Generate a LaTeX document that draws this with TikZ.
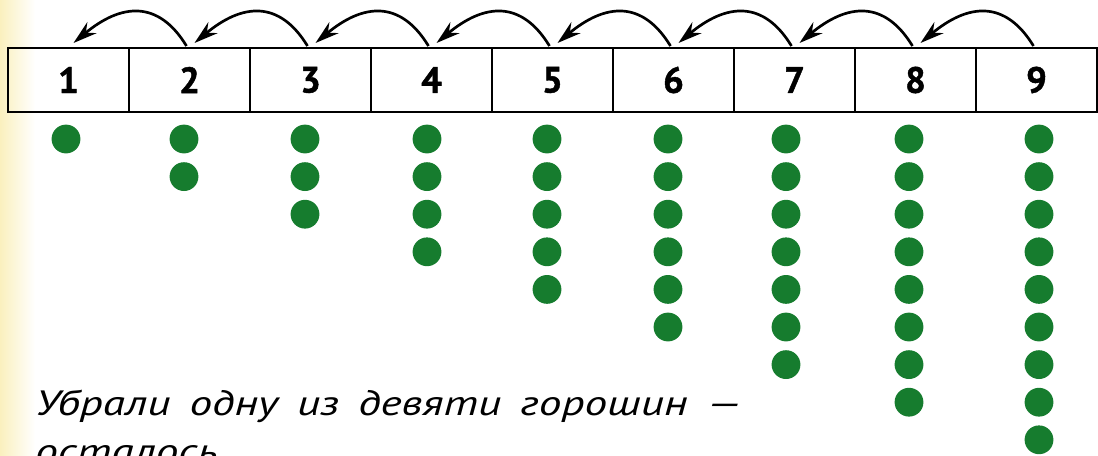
\documentclass[tikz,border=0pt]{standalone}
\usepackage{graphicx}
\usepackage{fontspec}
\setmainfont{PT Sans}
\newfontface\cellface{PT Sans Bold}[FakeBold=1.2]
\usetikzlibrary{arrows.meta}
\definecolor{peaGreen}{RGB}{22,124,46}
\definecolor{paperTint}{RGB}{250,240,190}
\newcommand\widegaps{\spaceskip=0.42em\relax}
\newcommand\taskline[1]{\scalebox{1.29}[1]{\widegaps #1}}

\begin{document}
\begin{tikzpicture}[x=0.025cm,y=-0.025cm,
  cell/.style={rectangle,draw=black,line width=1.5pt,minimum width=3.025cm,
               minimum height=1.6cm,inner sep=0pt,outer sep=0pt,
               font=\fontsize{26}{26}\cellface},
  jump/.style={line width=1.9pt,-{Stealth[length=6mm,width=3.6mm,inset=2mm]}},
  pea/.style={circle,fill=peaGreen,minimum size=0.72cm,inner sep=0pt},
  task/.style={anchor=base west,inner sep=0pt,
               font=\fontsize{25}{30}\selectfont\itshape}]

  \useasboundingbox (0,0) rectangle (1098,455);
  \clip (0,0) rectangle (1098,455);

  % paper edge
  \fill[left color=paperTint,right color=white] (0,0) rectangle (35,455);

  % number strip
  \foreach \n in {1,...,9}
    \node[cell] (c\n) at ({8+121*(\n-0.5)},80) {\n};

  % jumps back by one
  \foreach \n [evaluate=\n as \p using int(\n-1)] in {2,...,9}
    \draw[jump] ([shift={(-3,-2)}]c\n.north) .. controls +(-28,-46) and +(48,-40)
      .. ([shift={(5,-5)}]c\p.north);

  % peas
  \foreach \n/\x in {1/66,2/184,3/305,4/427,5/547,6/668,7/786,8/909,9/1039}
    \foreach \k in {1,...,\n}
      \node[pea] (p\n-\k) at (\x,{139+37.6*(\k-1)}) {};

  % text
  \node[task] (line1) at (35,415) {\taskline{Убрали одну из девяти горошин —}};
  \node[task] (line2) at (35,463) {\taskline{осталось}};
\end{tikzpicture}
\end{document}
